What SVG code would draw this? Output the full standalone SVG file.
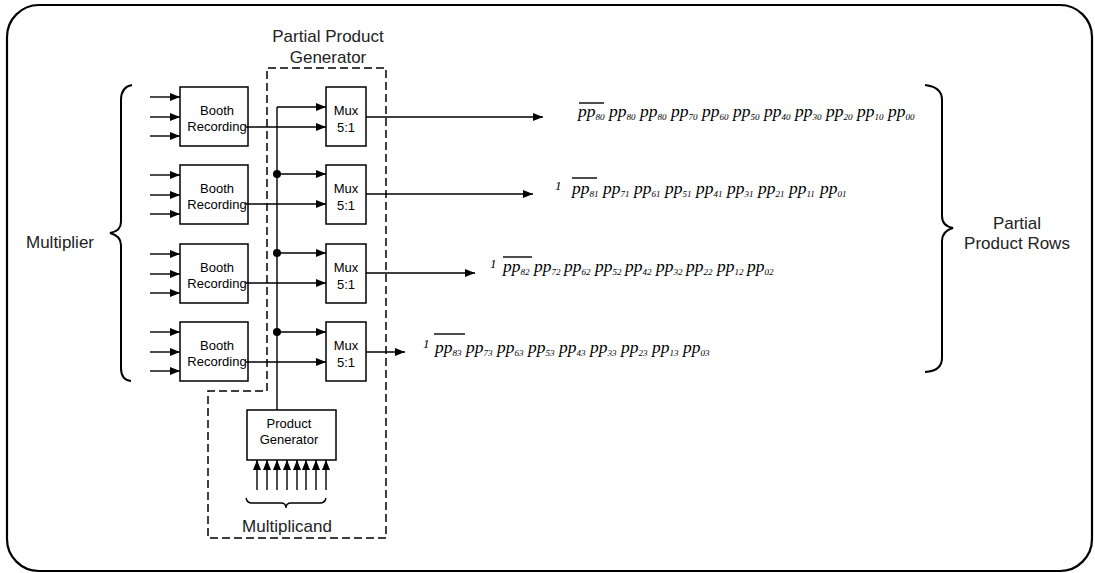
<svg xmlns="http://www.w3.org/2000/svg" width="1095" height="573" viewBox="0 0 1095 573">
<defs>
<marker id="ah" markerWidth="11" markerHeight="9" refX="10" refY="4" orient="auto" markerUnits="userSpaceOnUse">
<path d="M0,0 L10,4 L0,8 z" fill="#000"/>
</marker>
<style>
.box{fill:#fff;stroke:#000;stroke-width:1.5}
.ln{fill:none;stroke:#000;stroke-width:1.4}
.ar{fill:none;stroke:#000;stroke-width:1.4;marker-end:url(#ah)}
.br{fill:none;stroke:#000;stroke-width:2}
.lb{font-family:"Liberation Sans",Arial,sans-serif;font-size:13px;text-anchor:middle;fill:#000}
.big{font-family:"Liberation Sans",Arial,sans-serif;font-size:17px;text-anchor:middle;fill:#222}
.pp{font-family:"Liberation Serif","Times New Roman",serif;font-style:italic;font-size:17.5px;fill:#000}
.sb{font-size:9px}
.one{font-family:"Liberation Serif","Times New Roman",serif;font-style:italic;font-size:13px;fill:#000}
.dot{fill:#000}
</style>
</defs>
<rect x="0" y="0" width="1095" height="573" fill="#fff"/>
<rect id="frame" x="7" y="5" width="1085" height="566" rx="32" ry="32" fill="none" stroke="#000" stroke-width="2.2"/>

<g id="ppg-region">
<path d="M268,68 H386 V538 H208 V391 H267 V68" fill="none" stroke="#000" stroke-width="1.5" stroke-dasharray="8,4"/>
<text class="big" x="328" y="42">Partial Product</text>
<text class="big" x="328" y="63">Generator</text>
</g>

<g id="multiplier">
<path class="br" d="M132,85 Q121,87 121,100 V222 Q121,231 110,233 Q121,236 121,245 V368 Q121,380 131,381"/>
<text class="big" x="60" y="248">Multiplier</text>
</g>

<g id="partial-product-rows">
<path class="br" d="M925,85 Q942,87 942,100 V216 Q942,226 953,228 Q942,231 942,241 V358 Q942,371 925,372"/>
<text class="big" x="1017" y="229">Partial</text>
<text class="big" x="1017" y="249">Product Rows</text>
</g>

<g id="booth1"><rect class="box" x="180" y="87" width="68" height="59"/><text class="lb" x="217" y="115">Booth</text><text class="lb" x="217" y="131">Recording</text></g>
<g id="booth2"><rect class="box" x="180" y="165" width="68" height="59"/><text class="lb" x="217" y="193">Booth</text><text class="lb" x="217" y="209">Recording</text></g>
<g id="booth3"><rect class="box" x="180" y="244" width="68" height="59"/><text class="lb" x="217" y="272">Booth</text><text class="lb" x="217" y="288">Recording</text></g>
<g id="booth4"><rect class="box" x="180" y="322" width="68" height="59"/><text class="lb" x="217" y="350">Booth</text><text class="lb" x="217" y="366">Recording</text></g>

<g id="mux1"><rect class="box" x="326" y="87" width="40" height="59"/><text class="lb" x="346" y="115">Mux</text><text class="lb" x="346" y="132">5:1</text></g>
<g id="mux2"><rect class="box" x="326" y="165" width="40" height="59"/><text class="lb" x="346" y="193">Mux</text><text class="lb" x="346" y="210">5:1</text></g>
<g id="mux3"><rect class="box" x="326" y="244" width="40" height="59"/><text class="lb" x="346" y="272">Mux</text><text class="lb" x="346" y="289">5:1</text></g>
<g id="mux4"><rect class="box" x="326" y="322" width="40" height="59"/><text class="lb" x="346" y="350">Mux</text><text class="lb" x="346" y="367">5:1</text></g>

<g id="product-generator"><rect class="box" x="247" y="410" width="89" height="50"/><text class="lb" x="289" y="428">Product</text><text class="lb" x="289" y="444">Generator</text></g>

<g id="multiplicand">
<path class="ln" d="M246,498 Q247,503 252,503 H281 Q286,503 286,508 Q286,503 291,503 H320 Q325,503 326,498"/>
<text class="big" x="287" y="532">Multiplicand</text>
</g>

<g id="connectors">
<line class="ar" x1="150" y1="97" x2="180" y2="97"/>
<line class="ar" x1="150" y1="117" x2="180" y2="117"/>
<line class="ar" x1="150" y1="136" x2="180" y2="136"/>
<line class="ar" x1="150" y1="175" x2="180" y2="175"/>
<line class="ar" x1="150" y1="195" x2="180" y2="195"/>
<line class="ar" x1="150" y1="214" x2="180" y2="214"/>
<line class="ar" x1="150" y1="254" x2="180" y2="254"/>
<line class="ar" x1="150" y1="274" x2="180" y2="274"/>
<line class="ar" x1="150" y1="293" x2="180" y2="293"/>
<line class="ar" x1="150" y1="332" x2="180" y2="332"/>
<line class="ar" x1="150" y1="352" x2="180" y2="352"/>
<line class="ar" x1="150" y1="371" x2="180" y2="371"/>
<line class="ar" x1="246" y1="127" x2="326" y2="127"/>
<line class="ar" x1="246" y1="204" x2="326" y2="204"/>
<line class="ar" x1="246" y1="283" x2="326" y2="283"/>
<line class="ar" x1="246" y1="362" x2="326" y2="362"/>
<path class="ln" d="M277,410 V107"/>
<line class="ar" x1="277" y1="107" x2="326" y2="107"/>
<line class="ar" x1="277" y1="174" x2="326" y2="174"/>
<line class="ar" x1="277" y1="253" x2="326" y2="253"/>
<line class="ar" x1="277" y1="332" x2="326" y2="332"/>
<circle class="dot" cx="277" cy="174" r="4"/>
<circle class="dot" cx="277" cy="253" r="4"/>
<circle class="dot" cx="277" cy="332" r="4"/>
<line class="ar" x1="366" y1="117" x2="543" y2="117"/>
<line class="ar" x1="366" y1="194" x2="533" y2="194"/>
<line class="ar" x1="366" y1="273" x2="475" y2="273"/>
<line class="ar" x1="366" y1="352" x2="405" y2="352"/>
<line class="ar" x1="257" y1="490" x2="257" y2="460"/>
<line class="ar" x1="267" y1="490" x2="267" y2="460"/>
<line class="ar" x1="277" y1="490" x2="277" y2="460"/>
<line class="ar" x1="287" y1="490" x2="287" y2="460"/>
<line class="ar" x1="297" y1="490" x2="297" y2="460"/>
<line class="ar" x1="306" y1="490" x2="306" y2="460"/>
<line class="ar" x1="316" y1="490" x2="316" y2="460"/>
<line class="ar" x1="326" y1="490" x2="326" y2="460"/>
</g>

<g id="row0">
<line class="ln" x1="579" y1="103" x2="604" y2="103"/>
<text class="pp" y="117"><tspan x="578">pp</tspan><tspan class="sb" dy="3">80</tspan><tspan x="609" dy="-3">pp</tspan><tspan class="sb" dy="3">80</tspan><tspan x="640" dy="-3">pp</tspan><tspan class="sb" dy="3">80</tspan><tspan x="671" dy="-3">pp</tspan><tspan class="sb" dy="3">70</tspan><tspan x="702" dy="-3">pp</tspan><tspan class="sb" dy="3">60</tspan><tspan x="733" dy="-3">pp</tspan><tspan class="sb" dy="3">50</tspan><tspan x="764" dy="-3">pp</tspan><tspan class="sb" dy="3">40</tspan><tspan x="795" dy="-3">pp</tspan><tspan class="sb" dy="3">30</tspan><tspan x="826" dy="-3">pp</tspan><tspan class="sb" dy="3">20</tspan><tspan x="857" dy="-3">pp</tspan><tspan class="sb" dy="3">10</tspan><tspan x="888" dy="-3">pp</tspan><tspan class="sb" dy="3">00</tspan></text>
</g>

<g id="row1">
<text class="one" x="555" y="190">1</text>
<line class="ln" x1="572" y1="178" x2="597" y2="178"/>
<text class="pp" y="194"><tspan x="572">pp</tspan><tspan class="sb" dy="3">81</tspan><tspan x="603" dy="-3">pp</tspan><tspan class="sb" dy="3">71</tspan><tspan x="634" dy="-3">pp</tspan><tspan class="sb" dy="3">61</tspan><tspan x="665" dy="-3">pp</tspan><tspan class="sb" dy="3">51</tspan><tspan x="696" dy="-3">pp</tspan><tspan class="sb" dy="3">41</tspan><tspan x="727" dy="-3">pp</tspan><tspan class="sb" dy="3">31</tspan><tspan x="758" dy="-3">pp</tspan><tspan class="sb" dy="3">21</tspan><tspan x="789" dy="-3">pp</tspan><tspan class="sb" dy="3">11</tspan><tspan x="820" dy="-3">pp</tspan><tspan class="sb" dy="3">01</tspan></text>
</g>

<g id="row2">
<text class="one" x="490" y="268">1</text>
<line class="ln" x1="503" y1="257" x2="532" y2="257"/>
<text class="pp" y="272"><tspan x="503">pp</tspan><tspan class="sb" dy="3">82</tspan><tspan x="534" dy="-3">pp</tspan><tspan class="sb" dy="3">72</tspan><tspan x="564" dy="-3">pp</tspan><tspan class="sb" dy="3">62</tspan><tspan x="595" dy="-3">pp</tspan><tspan class="sb" dy="3">52</tspan><tspan x="625" dy="-3">pp</tspan><tspan class="sb" dy="3">42</tspan><tspan x="656" dy="-3">pp</tspan><tspan class="sb" dy="3">32</tspan><tspan x="686" dy="-3">pp</tspan><tspan class="sb" dy="3">22</tspan><tspan x="717" dy="-3">pp</tspan><tspan class="sb" dy="3">12</tspan><tspan x="747" dy="-3">pp</tspan><tspan class="sb" dy="3">02</tspan></text>
</g>

<g id="row3">
<text class="one" x="423" y="348">1</text>
<line class="ln" x1="434" y1="334" x2="465" y2="334"/>
<text class="pp" y="353"><tspan x="435">pp</tspan><tspan class="sb" dy="3">83</tspan><tspan x="466" dy="-3">pp</tspan><tspan class="sb" dy="3">73</tspan><tspan x="497" dy="-3">pp</tspan><tspan class="sb" dy="3">63</tspan><tspan x="528" dy="-3">pp</tspan><tspan class="sb" dy="3">53</tspan><tspan x="559" dy="-3">pp</tspan><tspan class="sb" dy="3">43</tspan><tspan x="590" dy="-3">pp</tspan><tspan class="sb" dy="3">33</tspan><tspan x="621" dy="-3">pp</tspan><tspan class="sb" dy="3">23</tspan><tspan x="652" dy="-3">pp</tspan><tspan class="sb" dy="3">13</tspan><tspan x="683" dy="-3">pp</tspan><tspan class="sb" dy="3">03</tspan></text>
</g>
</svg>
